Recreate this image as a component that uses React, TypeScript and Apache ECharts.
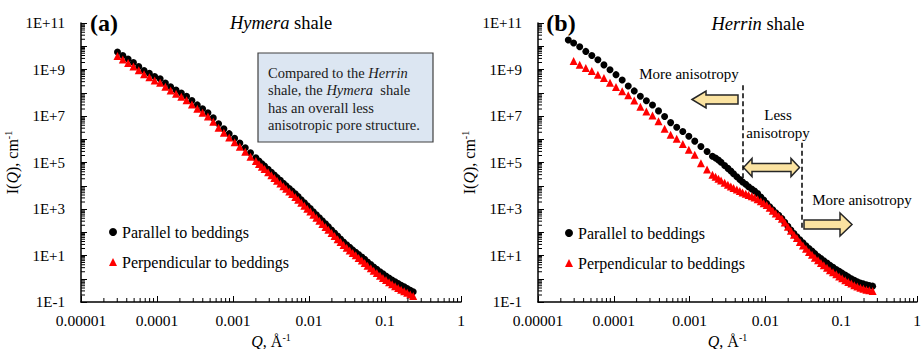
import React, { useEffect, useRef } from 'react';
import * as echarts from 'echarts';

const SERIF = '"Liberation Serif", "Times New Roman", serif';

// Tick labels
const xTickLabels = ['0.00001', '0.0001', '0.001', '0.01', '0.1', '1'];
const yTickLabels = ['1E-1', '1E+1', '1E+3', '1E+5', '1E+7', '1E+9', '1E+11'];
const minorTickMultipliers = [2, 3, 4, 5, 6, 7, 8, 9];
const xDecades = [-5, -4, -3, -2, -1];
const yDecades = [-1, 0, 1, 2, 3, 4, 5, 6, 7, 8, 9, 10];

const seriesNames = ['Parallel to beddings', 'Perpendicular to beddings'];

// (a) Hymera shale
const hymeraQ = [
  3.02e-5, 3.55e-5, 4.17e-5, 4.9e-5, 5.75e-5, 6.76e-5, 7.94e-5, 9.33e-5, 1.1e-4, 1.29e-4,
  1.51e-4, 1.78e-4, 2.09e-4, 2.45e-4, 2.88e-4, 3.39e-4, 3.98e-4, 4.68e-4, 5.5e-4, 6.46e-4,
  7.59e-4, 8.91e-4, 1.05e-3, 1.23e-3, 1.45e-3, 1.7e-3,
  0.002, 0.0022, 0.0024, 0.0026, 0.0029, 0.0032, 0.0035, 0.0038, 0.0042, 0.0046,
  0.005, 0.0055, 0.006, 0.0066, 0.0072, 0.0079, 0.0087, 0.0095, 0.0104, 0.0114,
  0.0125, 0.0137, 0.015, 0.0165, 0.018, 0.0198, 0.0217, 0.0238, 0.026, 0.0285,
  0.0313, 0.0343, 0.0376, 0.0412, 0.045, 0.0495, 0.054, 0.059, 0.065, 0.071,
  0.078, 0.086, 0.094, 0.103, 0.113, 0.124, 0.136, 0.149, 0.163, 0.179,
  0.196, 0.215, 0.235,
];
const hymeraParallel = [
  5.62e9, 3.98e9, 2.82e9, 2.0e9, 1.35e9, 9.1e8, 6.8e8, 5.0e8, 4.0e8, 2.63e8,
  1.82e8, 1.32e8, 9.8e7, 7.1e7, 4.6e7, 3.0e7, 2.04e7, 1.38e7, 8.3e6, 4.6e6,
  2.8e6, 1.74e6, 1.1e6, 6.9e5, 4.3e5, 2.6e5,
  1.58e5, 1.17e5, 8.9e4, 7.1e4, 5.1e4, 3.8e4, 2.9e4, 2.24e4, 1.7e4, 1.29e4,
  1.0e4, 7.6e3, 5.9e3, 4.5e3, 3.4e3, 2.5e3, 1.86e3, 1.38e3, 1.05e3, 760,
  562, 417, 309, 229, 174, 126, 93, 68, 51, 38,
  28.8, 22.4, 17.4, 13.8, 11.0, 8.5, 6.8, 5.2, 4.1, 3.2,
  2.57, 2.0, 1.62, 1.32, 1.07, 0.89, 0.74, 0.62, 0.52, 0.45,
  0.38, 0.32, 0.275,
];
const hymeraPerpendicular = [
  3.8e9, 2.7e9, 1.9e9, 1.36e9, 9.2e8, 6.2e8, 4.6e8, 3.4e8, 2.7e8, 1.79e8,
  1.24e8, 9.0e7, 6.7e7, 4.8e7, 3.1e7, 2.04e7, 1.39e7, 9.4e6, 5.6e6, 3.1e6,
  1.9e6, 1.18e6, 7.5e5, 4.7e5, 2.9e5, 1.77e5,
  1.17e5, 8.7e4, 6.6e4, 5.3e4, 3.8e4, 2.8e4, 2.15e4, 1.66e4, 1.26e4, 9.5e3,
  7.4e3, 5.6e3, 4.4e3, 3.3e3, 2.5e3, 1.85e3, 1.38e3, 1.02e3, 780, 560,
  416, 309, 229, 169, 129, 93, 69, 50, 37.7, 28,
  21.3, 16.6, 12.9, 10.2, 7.9, 6.1, 4.8, 3.6, 2.8, 2.2,
  1.75, 1.36, 1.09, 0.88, 0.71, 0.58, 0.48, 0.40, 0.34, 0.29,
  0.25, 0.21, 0.18,
];

// (b) Herrin shale
const herrinQ = [
  2.51e-5, 2.95e-5, 3.55e-5, 4.27e-5, 5.13e-5, 6.17e-5, 7.41e-5, 8.91e-5, 1.07e-4, 1.29e-4,
  1.55e-4, 1.86e-4, 2.24e-4, 2.69e-4, 3.24e-4, 3.89e-4, 4.68e-4, 5.62e-4, 6.76e-4, 8.13e-4,
  9.77e-4, 1.17e-3, 1.41e-3, 1.7e-3,
  0.002, 0.0022, 0.0024, 0.0026, 0.0029, 0.0032, 0.0035, 0.0038, 0.0042, 0.0046,
  0.005, 0.0055, 0.006, 0.0066, 0.0072, 0.0079, 0.0087, 0.0095, 0.0104, 0.0114,
  0.0125, 0.0137, 0.015, 0.0165, 0.018, 0.0198, 0.0217, 0.0238, 0.026, 0.0285,
  0.0313, 0.0343, 0.0376, 0.0412, 0.045, 0.0495, 0.054, 0.059, 0.065, 0.071,
  0.078, 0.086, 0.094, 0.103, 0.113, 0.124, 0.136, 0.149, 0.163, 0.179,
  0.196, 0.215, 0.235, 0.26,
];
const herrinParallel = [
  1.86e10, 1.38e10, 9.5e9, 6.0e9, 4.0e9, 2.63e9, 1.58e9, 9.8e8, 6.0e8, 3.55e8,
  1.95e8, 1.2e8, 7.1e7, 4.5e7, 2.95e7, 1.66e7, 9.5e6, 5.2e6, 3.3e6, 2.14e6,
  1.35e6, 8.3e5, 4.9e5, 2.95e5,
  1.86e5, 1.55e5, 1.29e5, 1.02e5, 7.4e4, 5.6e4, 4.3e4, 3.3e4, 2.45e4, 1.86e4,
  1.45e4, 1.15e4, 9.1e3, 7.2e3, 5.9e3, 4.6e3, 3.3e3, 2.45e3, 1.74e3, 1.26e3,
  933, 692, 537, 389, 269, 182, 126, 87, 64.6, 47.9,
  35.5, 26.3, 20.0, 15.5, 12.0, 9.1, 7.4, 5.9, 4.7, 3.8,
  3.1, 2.51, 2.09, 1.74, 1.45, 1.2, 1.0, 0.85, 0.74, 0.66,
  0.60, 0.55, 0.51, 0.48,
];
const herrinPerpendicular = [
  null, 2.34e9, 1.62e9, 1.15e9, 8.7e8, 6.0e8, 4.3e8, 2.7e8, 1.78e8, 1.17e8,
  7.9e7, 4.6e7, 2.5e7, 1.58e7, 1.05e7, 6.0e6, 2.8e6, 1.58e6, 1.05e6, 6.3e5,
  3.55e5, 2.14e5, 9.3e4, 5.0e4,
  3.0e4, 2.45e4, 2.0e4, 1.7e4, 1.35e4, 1.1e4, 9.3e3, 8.1e3, 6.9e3, 5.9e3,
  5.1e3, 4.5e3, 4.0e3, 3.55e3, 3.1e3, 2.63e3, 2.14e3, 1.78e3, 1.48e3, 1.12e3,
  851, 646, 501, 380, 263, 174, 117, 79, 56, 38,
  26.9, 19.5, 14.1, 10.7, 8.1, 6.2, 4.8, 3.8, 2.95, 2.34,
  1.9, 1.55, 1.26, 1.05, 0.87, 0.72, 0.62, 0.52, 0.46, 0.41,
  0.37, 0.34, 0.32, 0.30,
];

// Annotation positions (data coordinates) for the Herrin panel
const boundaryLines = [
  { q: 0.005, top: 2.1e8, bottom: 1.8e4 },
  { q: 0.03, top: 7e5, bottom: 150 },
];

const zip = (q: number[], v: (number | null)[]) =>
  q.map((x, k) => [x, v[k]]).filter((p) => p[1] != null);

const yFormatter = (v: number) => {
  const e = Math.round(Math.log10(v));
  if (Math.abs(e) % 2 !== 1) return '';
  return yTickLabels[(e + 1) / 2] ?? '';
};
const xFormatter = (v: number) => xTickLabels[Math.round(Math.log10(v)) + 5] ?? '';

const richAxisName = {
  n: { fontSize: 16, fontFamily: SERIF, color: '#000', lineHeight: 18 },
  i: { fontSize: 16, fontFamily: SERIF, color: '#000', fontStyle: 'italic', lineHeight: 18 },
  s: { fontSize: 10, fontFamily: SERIF, color: '#000', lineHeight: 18, verticalAlign: 'top', padding: [0, 0, 8, 0] },
};

function makeX(g: number) {
  return {
    type: 'log',
    logBase: 10,
    gridIndex: g,
    min: 1e-5,
    max: 1,
    interval: 1,
    axisLine: { show: true, lineStyle: { color: '#000', width: 1.5 } },
    axisTick: { show: true, inside: true, length: 6, lineStyle: { color: '#000', width: 1 } },
    splitLine: { show: false },
    minorTick: { show: false },
    axisLabel: { margin: 10, fontSize: 15.5, fontFamily: SERIF, color: '#000', formatter: xFormatter },
    name: '{i|Q}{n|, Å}{s|-1}',
    nameLocation: 'middle',
    nameGap: 25,
    nameTextStyle: { rich: richAxisName },
  };
}
function makeY(g: number) {
  return {
    type: 'log',
    logBase: 10,
    gridIndex: g,
    min: 0.1,
    max: 1e11,
    interval: 1,
    axisLine: { show: true, lineStyle: { color: '#000', width: 1.5 } },
    axisTick: { show: true, inside: true, length: 6, lineStyle: { color: '#000', width: 1 } },
    splitLine: { show: false },
    minorTick: { show: false },
    axisLabel: { margin: 16, fontSize: 15, fontFamily: SERIF, color: '#000', formatter: yFormatter },
    name: '{n|I(}{i|Q}{n|), cm}{s|-1}',
    nameLocation: 'middle',
    nameGap: 49,
    nameTextStyle: { rich: richAxisName },
  };
}

const xMinor: number[] = [];
xDecades.forEach((d) => minorTickMultipliers.forEach((m) => xMinor.push(m * Math.pow(10, d))));
const yMinor: number[] = [];
yDecades.forEach((d) => minorTickMultipliers.forEach((m) => yMinor.push(m * Math.pow(10, d))));

function minorTickSeries(g: number) {
  return [
    {
      type: 'custom',
      xAxisIndex: g,
      yAxisIndex: g,
      silent: true,
      clip: false,
      z: 5,
      data: xMinor.map((v) => [v, 0.1]),
      renderItem: (_p: any, api: any) => {
        const p = api.coord([api.value(0), api.value(1)]);
        return { type: 'line', shape: { x1: p[0], y1: p[1], x2: p[0], y2: p[1] - 4 }, style: { stroke: '#000', lineWidth: 1 } };
      },
    },
    {
      type: 'custom',
      xAxisIndex: g,
      yAxisIndex: g,
      silent: true,
      clip: false,
      z: 5,
      data: yMinor.map((v) => [1e-5, v]),
      renderItem: (_p: any, api: any) => {
        const p = api.coord([api.value(0), api.value(1)]);
        return { type: 'line', shape: { x1: p[0], y1: p[1], x2: p[0] + 4, y2: p[1] }, style: { stroke: '#000', lineWidth: 1 } };
      },
    },
  ];
}

function legendAt(left: number, top: number) {
  return {
    left,
    top,
    orient: 'vertical',
    itemGap: 14,
    itemWidth: 8,
    itemHeight: 8,
    selectedMode: false,
    padding: 0,
    textStyle: { fontSize: 16, fontFamily: SERIF, color: '#000' },
    data: [
      { name: seriesNames[0], icon: 'circle', itemStyle: { color: '#000' } },
      { name: seriesNames[1], icon: 'triangle', itemStyle: { color: '#ff0000' } },
    ],
  };
}

const textStyleBase = { fontFamily: SERIF, fill: '#000' };

function txt(x: number, y: number, text: string, fontSize: number, extra: any = {}) {
  return {
    type: 'text',
    x,
    y,
    silent: true,
    style: { text, fontSize, ...textStyleBase, align: 'center', verticalAlign: 'middle', ...extra },
  };
}

const arrowStyle = { fill: '#fbe3a1', stroke: '#262626', lineWidth: 1.5 };

export default function App() {
  const ref = useRef<HTMLDivElement>(null);
  useEffect(() => {
    document.body.style.margin = '0';
    if (!ref.current) return;
    const chart = echarts.init(ref.current, undefined, { renderer: 'svg' });
    const scatter = (name: string, g: number, data: any[], black: boolean, extra: any = {}) => ({
      type: 'scatter',
      name,
      xAxisIndex: g,
      yAxisIndex: g,
      data,
      symbol: black ? 'circle' : 'triangle',
      symbolSize: black ? 7 : 8,
      itemStyle: { color: black ? '#000' : '#ff0000', opacity: 1 },
      silent: true,
      ...extra,
    });
    const option: any = {
      animation: false,
      grid: [
        { left: 81, top: 23, width: 380, height: 279, outerBoundsMode: 'none', containLabel: false },
        { left: 538, top: 23, width: 379, height: 279, outerBoundsMode: 'none', containLabel: false },
      ],
      xAxis: [makeX(0), makeX(1)],
      yAxis: [makeY(0), makeY(1)],
      legend: [legendAt(109, 224), legendAt(565, 225)],
      series: [
        scatter(seriesNames[0], 0, zip(hymeraQ, hymeraParallel), true),
        scatter(seriesNames[1], 0, zip(hymeraQ, hymeraPerpendicular), false),
        scatter(seriesNames[0], 1, zip(herrinQ, herrinParallel), true, {
          markLine: {
            silent: true,
            symbol: ['none', 'none'],
            label: { show: false },
            lineStyle: { type: [5, 3], color: '#000', width: 1.5 },
            data: boundaryLines.map((b) => [{ coord: [b.q, b.top] }, { coord: [b.q, b.bottom] }]),
          },
        }),
        scatter(seriesNames[1], 1, zip(herrinQ, herrinPerpendicular), false),
        ...minorTickSeries(0),
        ...minorTickSeries(1),
      ],
      graphic: [
        txt(104, 23, '(a)', 24, { fontWeight: 'bold' }),
        txt(561, 23, '(b)', 24, { fontWeight: 'bold' }),
        txt(281, 23, '{i|Hymera}{n| shale}', 18.5, {
          rich: {
            i: { fontStyle: 'italic', fontSize: 18.5, fontFamily: SERIF, fill: '#000' },
            n: { fontSize: 18.5, fontFamily: SERIF, fill: '#000' },
          },
        }),
        txt(758, 24, '{i|Herrin}{n| shale}', 18.5, {
          rich: {
            i: { fontStyle: 'italic', fontSize: 18.5, fontFamily: SERIF, fill: '#000' },
            n: { fontSize: 18.5, fontFamily: SERIF, fill: '#000' },
          },
        }),
        {
          type: 'rect',
          silent: true,
          shape: { x: 258, y: 53, width: 175, height: 89 },
          style: { fill: '#dce6f2', stroke: '#404040', lineWidth: 1.2 },
        },
        {
          type: 'text',
          x: 268,
          y: 64,
          silent: true,
          style: {
            text: '{n|Compared to the }{i|Herrin}\n{n|shale, the }{i|Hymera}{n|  shale}\n{n|has an overall less}\n{n|anisotropic pore structure.}',
            fontSize: 14.5,
            fontFamily: SERIF,
            fill: '#1a1a1a',
            align: 'left',
            verticalAlign: 'top',
            lineHeight: 17.4,
            rich: {
              n: { fontSize: 14.5, fontFamily: SERIF, fill: '#1a1a1a', lineHeight: 17.4 },
              i: { fontSize: 14.5, fontFamily: SERIF, fill: '#1a1a1a', fontStyle: 'italic', lineHeight: 17.4 },
            },
          },
        },
        txt(689, 74, 'More anisotropy', 15),
        txt(778, 115, 'Less', 15),
        txt(778, 133, 'anisotropy', 15),
        txt(862, 200, 'More anisotropy', 15),
        {
          type: 'polygon',
          silent: true,
          shape: {
            points: [[692, 99.5], [706, 91], [706, 95], [738, 95], [738, 104], [706, 104], [706, 108]],
          },
          style: arrowStyle,
        },
        {
          type: 'polygon',
          silent: true,
          shape: {
            points: [
              [743.5, 167.5], [752, 158.5], [752, 163.5], [791, 163.5], [791, 158.5], [799.5, 167.5],
              [791, 176.5], [791, 171.5], [752, 171.5], [752, 176.5],
            ],
          },
          style: arrowStyle,
        },
        {
          type: 'polygon',
          silent: true,
          shape: {
            points: [[804, 220], [840, 220], [840, 213], [852, 224.5], [840, 236], [840, 229], [804, 229]],
          },
          style: arrowStyle,
        },
      ],
    };
    chart.setOption(option);
    return () => chart.dispose();
  }, []);
  return <div ref={ref} style={{ width: 924, height: 349 }} />;
}
